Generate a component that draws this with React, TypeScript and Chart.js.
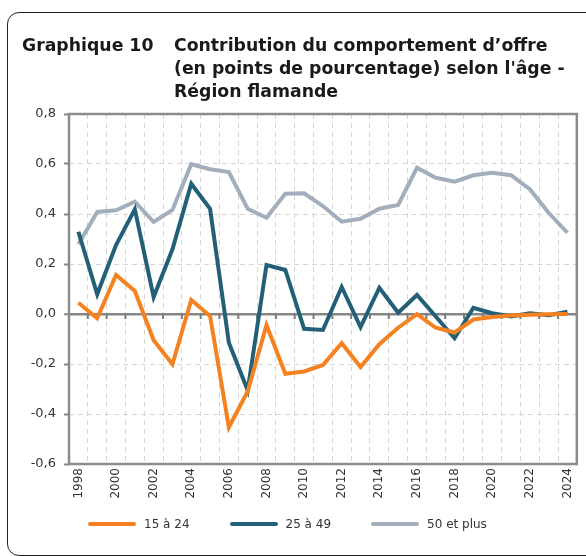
import React, { useEffect, useRef } from "react";
import { Chart, registerables } from "chart.js";

Chart.register(...registerables);

const years = [
  1998, 1999, 2000, 2001, 2002, 2003, 2004, 2005, 2006, 2007, 2008, 2009, 2010,
  2011, 2012, 2013, 2014, 2015, 2016, 2017, 2018, 2019, 2020, 2021, 2022, 2023, 2024,
];

const serie15a24 = [
  0.045, -0.017, 0.156, 0.092, -0.105, -0.201, 0.056, -0.008, -0.453, -0.31,
  -0.044, -0.239, -0.23, -0.204, -0.117, -0.212, -0.121, -0.055, -0.001, -0.055,
  -0.074, -0.022, -0.012, -0.006, -0.003, -0.001, 0.0,
];

const serie25a49 = [
  0.329, 0.079, 0.276, 0.419, 0.068, 0.259, 0.521, 0.421, -0.115, -0.305,
  0.196, 0.176, -0.059, -0.064, 0.108, -0.052, 0.105, 0.005, 0.076, -0.01,
  -0.097, 0.025, 0.003, -0.01, 0.003, -0.005, 0.009,
];

const serie50plus = [
  0.279, 0.408, 0.415, 0.449, 0.368, 0.416, 0.599, 0.579, 0.568, 0.421,
  0.385, 0.481, 0.483, 0.432, 0.369, 0.381, 0.421, 0.436, 0.585, 0.545,
  0.529, 0.555, 0.565, 0.555, 0.499, 0.405, 0.325,
];

const seriesNames = ["15 à 24", "25 à 49", "50 et plus"];
const seriesColors = ["#F58220", "#236078", "#A2AEBB"];

const yMin = -0.6;
const yMax = 0.8;
const yStep = 0.2;

const titleLabel = "Graphique 10";
const titleLines = [
  "Contribution du comportement d’offre",
  "(en points de pourcentage) selon l'âge -",
  "Région flamande",
];

const FONT = "DejaVu Sans";
const isZero = (v: any) => typeof v === "number" && Math.abs(v) < 1e-9;
const fmt = (v: number) => (isZero(v) ? 0 : v).toFixed(1).replace(".", ",");

const framePlugin = {
  id: "frameAndZeroTicks",
  beforeDatasetsDraw(chart: any) {
    const { ctx, chartArea: a, scales } = chart;
    const x = scales.x;
    const y = scales.y;
    ctx.save();
    ctx.setLineDash([]);
    ctx.strokeStyle = "#8c8c8c";
    ctx.lineWidth = 2.5;
    ctx.strokeRect(a.left, a.top, a.right - a.left, a.bottom - a.top);
    const y0 = y.getPixelForValue(0);
    ctx.lineWidth = 2;
    ctx.strokeStyle = "#7a7a7a";
    for (let i = 1; i < years.length; i++) {
      const bx = (x.getPixelForValue(i - 1) + x.getPixelForValue(i)) / 2;
      ctx.beginPath();
      ctx.moveTo(bx, y0);
      ctx.lineTo(bx, y0 + 5);
      ctx.stroke();
    }
    ctx.restore();
  },
};

export default function App() {
  const canvasRef = useRef<HTMLCanvasElement | null>(null);

  useEffect(() => {
    if (!canvasRef.current) return;
    const seriesData = [serie15a24, serie25a49, serie50plus];
    const chart = new Chart(canvasRef.current, {
      type: "line",
      data: {
        labels: years.map(String),
        datasets: seriesData.map((d, i) => ({
          label: seriesNames[i],
          data: d,
          borderColor: seriesColors[i],
          backgroundColor: seriesColors[i],
          borderWidth: 4,
          pointRadius: 0,
          pointHoverRadius: 0,
          tension: 0,
          fill: false,
        })),
      },
      options: {
        responsive: false,
        animation: false,
        layout: { padding: { top: 114, right: 9, bottom: 52, left: 9 } },
        plugins: {
          title: { display: false },
          tooltip: { enabled: false },
          legend: { display: false },
        },
        scales: {
          x: {
            type: "category",
            offset: true,
            grid: { offset: true, color: "#d6d6d6", lineWidth: 1, drawTicks: false },
            border: { display: false, dash: [5, 4] },
            ticks: {
              autoSkip: false,
              maxRotation: 90,
              minRotation: 90,
              padding: 4,
              color: "#333",
              font: { family: FONT, size: 12 },
              callback: (_v: any, i: number) => (years[i] % 2 === 0 ? String(years[i]) : ""),
            },
            afterFit: (s: any) => {
              s.height = 40;
            },
          },
          y: {
            min: yMin,
            max: yMax,
            ticks: {
              stepSize: yStep,
              padding: 8,
              color: "#333",
              font: { family: FONT, size: 13 },
              callback: (v: any) => fmt(Number(v)),
            },
            grid: {
              color: (c: any) => (c.tick && isZero(c.tick.value) ? "#868686" : "#d6d6d6"),
              lineWidth: (c: any) => (c.tick && isZero(c.tick.value) ? 2.5 : 1),
              tickColor: "#868686",
              tickWidth: 2,
              tickLength: 5,
              tickBorderDash: [],
            },
            border: {
              display: false,
              dash: (c: any) => (c.tick && !isZero(c.tick.value) ? [5, 4] : []),
            },
            afterFit: (s: any) => {
              s.width = 60;
            },
          },
        },
      },
      plugins: [framePlugin],
    } as any);
    return () => chart.destroy();
  }, []);

  const titleStyle: React.CSSProperties = {
    position: "absolute",
    top: 34,
    font: `bold 17.3px "${FONT}"`,
    lineHeight: "23px",
    color: "#1a1a1a",
    whiteSpace: "nowrap",
  };

  return (
    <div
      style={{
        position: "absolute",
        left: 0,
        top: 0,
        width: 586,
        height: 556,
        overflow: "hidden",
        background: "#fff",
      }}
    >
      <div
        style={{
          position: "absolute",
          left: 7,
          top: 12,
          width: 640,
          height: 544,
          border: "1.5px solid #222",
          borderRadius: 12,
          boxSizing: "border-box",
        }}
      />
      <canvas
        ref={canvasRef}
        width={586}
        height={556}
        style={{ position: "absolute", left: 0, top: 0, display: "block" }}
      />
      <div style={{ ...titleStyle, left: 22 }}>{titleLabel}</div>
      <div style={{ ...titleStyle, left: 174 }}>
        {titleLines.map((l) => (
          <div key={l}>{l}</div>
        ))}
      </div>
      <div
        style={{
          position: "absolute",
          left: 88,
          top: 515,
          height: 18,
          display: "flex",
          alignItems: "center",
          gap: 40,
          font: `12px "${FONT}"`,
          color: "#333",
          whiteSpace: "nowrap",
        }}
      >
        {seriesNames.map((n, i) => (
          <div key={n} style={{ display: "flex", alignItems: "center" }}>
            <span
              style={{
                display: "inline-block",
                width: 48,
                height: 4,
                borderRadius: 2,
                background: seriesColors[i],
                marginRight: 8,
              }}
            />
            <span>{n}</span>
          </div>
        ))}
      </div>
    </div>
  );
}
